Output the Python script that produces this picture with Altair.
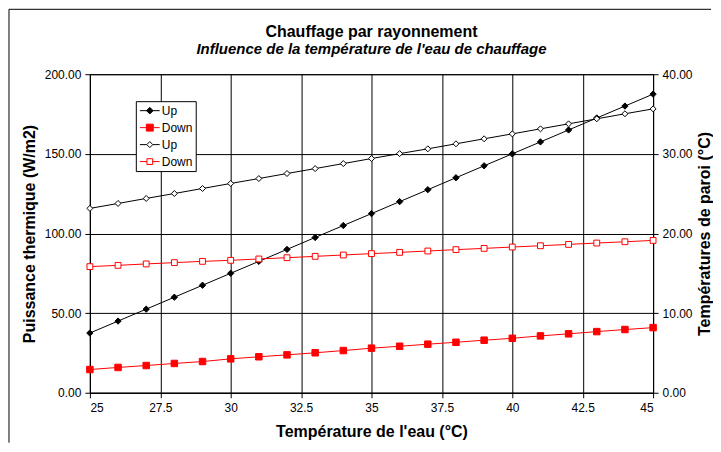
import altair as alt
import pandas as pd

# ---- data ----
temp_eau = [25, 26, 27, 28, 29, 30, 31, 32, 33, 34, 35, 36, 37, 38, 39, 40, 41, 42, 43, 44, 45]
puissance_up = [37.5, 45.0, 52.5, 60.0, 67.5, 75.0, 82.5, 90.0, 97.5, 105.0, 112.5,
                120.0, 127.5, 135.0, 142.5, 150.0, 157.5, 165.0, 172.5, 180.0, 187.5]
puissance_down = [14.6, 15.9, 17.1, 18.4, 19.6, 21.3, 22.6, 23.8, 25.1, 26.5, 28.0,
                  29.2, 30.5, 31.7, 33.0, 34.2, 35.7, 37.0, 38.4, 39.7, 40.9]
paroi_up = [23.15, 23.77, 24.40, 25.02, 25.65, 26.28, 26.90, 27.53, 28.15, 28.78, 29.41,
            30.03, 30.63, 31.26, 31.89, 32.51, 33.14, 33.77, 34.40, 35.03, 35.65]
paroi_down = [15.84, 16.00, 16.18, 16.34, 16.50, 16.63, 16.80, 16.96, 17.13, 17.30, 17.47,
              17.63, 17.80, 17.97, 18.13, 18.30, 18.46, 18.63, 18.80, 18.96, 19.13]

x_ticks = [25, 27.5, 30, 32.5, 35, 37.5, 40, 42.5, 45]
left_ticks = [0, 50, 100, 150, 200]
right_ticks = [0, 10, 20, 30, 40]

legend_series = ["Up1", "Down1", "Up2", "Down2"]
legend_stroke = ["black", "red", "black", "red"]
legend_fill = ["black", "red", "white", "white"]
legend_paths = [
    "M-1.65,0H1.65M0,-0.55L0.55,0L0,0.55L-0.55,0Z",
    "M-1.65,0H1.65M-0.58,-0.58H0.58V0.58H-0.58Z",
    "M-1.65,0H-0.5M0.5,0H1.65M0,-0.5L0.5,0L0,0.5L-0.5,0Z",
    "M-1.65,0H-0.48M0.48,0H1.65M-0.48,-0.48H0.48V0.48H-0.48Z",
]

df = pd.DataFrame({
    "t": temp_eau,
    "p_up": puissance_up,
    "p_down": puissance_down,
    "r_up": paroi_up,
    "r_down": paroi_down,
})

W, H = 564, 319
FONT = "Liberation Sans"

x_enc = alt.X(
    "t:Q",
    scale=alt.Scale(domain=[25, 45], nice=False, zero=False),
    axis=alt.Axis(values=x_ticks, format=".1~f", title="Température de l'eau (°C)",
                  grid=True, gridColor="black", gridOpacity=1, gridWidth=1,
                  tickSize=5, labelPadding=5, titlePadding=10,
                  domainColor="black", tickColor="black"),
)

left_scale = alt.Scale(domain=[0, 200], nice=False, zero=True)
left_axis = alt.Axis(orient="left", values=left_ticks, format=".2f",
                     title="Puissance thermique (W/m2)", grid=True, gridColor="black",
                     gridOpacity=1, gridWidth=1, tickSize=5, labelPadding=4, titlePadding=7,
                     domainColor="black", tickColor="black")
right_scale = alt.Scale(domain=[0, 40], nice=False, zero=True)
right_axis = alt.Axis(orient="right", values=right_ticks, format=".2f",
                      title="Températures de paroi (°C)", grid=False, tickSize=5,
                      labelPadding=4, titlePadding=4, titleAngle=270, titleBaseline="top",
                      domainColor="black", tickColor="black")


def serie(field, color, shape, fill, size, scale, axis):
    base = alt.Chart(df)
    line = base.mark_line(color=color, strokeWidth=1).encode(
        x=x_enc, y=alt.Y(f"{field}:Q", scale=scale, axis=axis))
    pts = base.mark_point(shape=shape, fill=fill, stroke=color, strokeWidth=1,
                          opacity=1, size=size).encode(
        x=x_enc, y=alt.Y(f"{field}:Q", scale=scale, axis=axis))
    return [line, pts]


left_group = alt.layer(
    *serie("p_up", "black", "diamond", "black", 40, left_scale, left_axis),
    *serie("p_down", "red", "square", "red", 42, left_scale, left_axis),
)
right_group = alt.layer(
    *serie("r_up", "black", "diamond", "white", 36, right_scale, right_axis),
    *serie("r_down", "red", "square", "white", 34, right_scale, right_axis),
)

leg = alt.Legend(title=None, orient="none", legendX=46, legendY=27,
                 strokeColor="black", fillColor="white", padding=3,
                 symbolSize=144, symbolStrokeWidth=1, symbolOffset=4.5,
                 labelFontSize=12, labelFont=FONT, labelColor="black",
                 labelOffset=5.5, rowPadding=4,
                 labelExpr="substring(datum.label, 0, length(datum.label) - 1)")

legend_df = pd.DataFrame({"serie": legend_series})
legend_layer = alt.Chart(legend_df).transform_filter("false").mark_point(
    opacity=1, strokeWidth=1).encode(
    stroke=alt.Stroke("serie:N", scale=alt.Scale(domain=legend_series, range=legend_stroke), legend=leg),
    fill=alt.Fill("serie:N", scale=alt.Scale(domain=legend_series, range=legend_fill), legend=leg),
    shape=alt.Shape("serie:N", scale=alt.Scale(domain=legend_series, range=legend_paths), legend=leg),
)

one = pd.DataFrame({"a": [0]})
frame_left = alt.Chart(one).mark_rule(color="black", strokeWidth=1).encode(
    x=alt.value(-81), y=alt.value(-65), y2=alt.value(369))
frame_top = alt.Chart(one).mark_rule(color="black", strokeWidth=1).encode(
    x=alt.value(-81), x2=alt.value(W + 58), y=alt.value(-65))

chart = alt.layer(left_group, right_group, legend_layer, frame_left, frame_top).resolve_scale(
    y="independent"
).properties(
    width=W, height=H, padding=0,
    title=alt.TitleParams(
        text="Chauffage par rayonnement",
        subtitle="Influence de la température de l'eau de chauffage",
        fontSize=16, fontWeight="bold", color="black", font=FONT,
        subtitleFontSize=15, subtitleFontWeight="bold", subtitleFontStyle="italic",
        subtitleColor="black", subtitleFont=FONT, subtitlePadding=2,
        anchor="middle", frame="group", offset=10, dy=58,
    ),
).configure(font=FONT, background="white").configure_axis(
    labelFont=FONT, labelFontSize=12, labelColor="black",
    titleFont=FONT, titleFontSize=16, titleFontWeight="bold", titleColor="black",
).configure_view(stroke="black", strokeWidth=1)

chart.save("out.html", embed_options={"renderer": "svg", "actions": False})
